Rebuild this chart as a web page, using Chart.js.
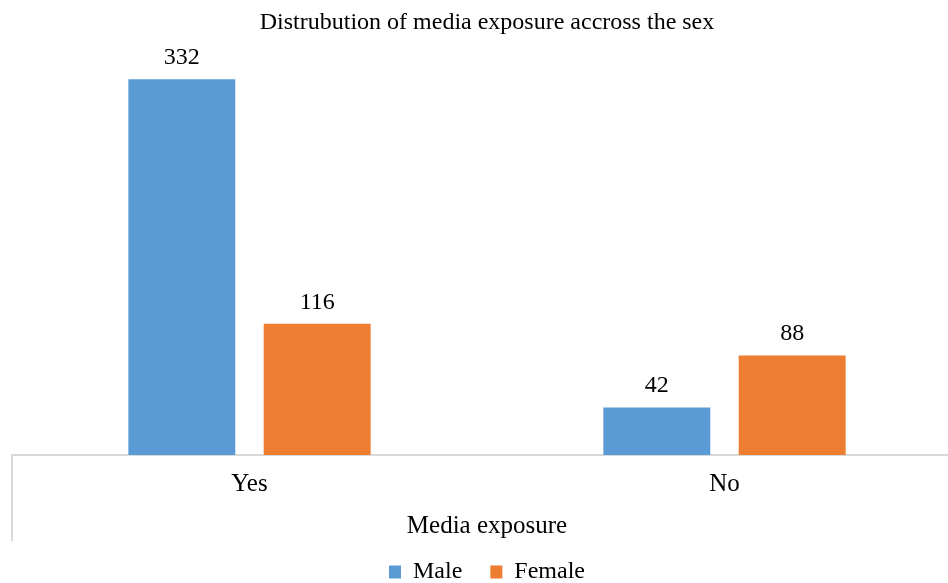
<!DOCTYPE html>
<html>
<head>
<meta charset="utf-8">
<script src="https://cdn.jsdelivr.net/npm/chart.js@4.4.0/dist/chart.umd.min.js"></script>
<style>
    html, body { margin: 0; padding: 0; background: #ffffff; overflow: hidden; }
    #wrap { position: relative; width: 974px; height: 594px; }
</style>
</head>
<body>
<div id="wrap"><canvas id="chart-1"></canvas></div>
<script>
// data
const categories = ['Yes', 'No'];
const maleValues = [332, 42];
const femaleValues = [116, 88];
const seriesNames = ['Male', 'Female'];

const serif = "'Liberation Serif', 'Times New Roman', serif";

// labels above each bar
const barLabelPlugin = {
    id: 'barLabels',
    afterDatasetsDraw: function (chart) {
        const ctx = chart.ctx;
        ctx.save();
        ctx.font = '24px ' + serif;
        ctx.fillStyle = '#000000';
        ctx.textAlign = 'center';
        ctx.textBaseline = 'alphabetic';
        chart.data.datasets.forEach(function (ds, i) {
            const meta = chart.getDatasetMeta(i);
            meta.data.forEach(function (bar, j) {
                ctx.fillText(String(ds.data[j]), bar.x, bar.y - 15);
            });
        });
        ctx.restore();
    }
};

// left separator line below axis
const leftLinePlugin = {
    id: 'leftLine',
    afterDraw: function (chart) {
        const ctx = chart.ctx;
        const area = chart.chartArea;
        ctx.save();
        ctx.strokeStyle = '#d9d9d9';
        ctx.lineWidth = 2;
        ctx.beginPath();
        ctx.moveTo(area.left, area.bottom);
        ctx.lineTo(area.left, area.bottom + 86);
        ctx.stroke();
        ctx.restore();
    }
};

const data = {
    labels: categories,
    datasets: [
        {
            label: seriesNames[0],
            data: maleValues,
            backgroundColor: '#5b9bd5',
            categoryPercentage: 0.57,
            barPercentage: 0.79
        },
        {
            label: seriesNames[1],
            data: femaleValues,
            backgroundColor: '#ed7d31',
            categoryPercentage: 0.57,
            barPercentage: 0.79
        }
    ]
};

const options = {
    responsive: true,
    maintainAspectRatio: false,
    animation: false,
    layout: {
        padding: { left: 12, right: 12, top: 6, bottom: 0 }
    },
    scales: {
        x: {
            grid: { display: false },
            border: { display: true, color: '#d9d9d9', width: 2 },
            ticks: {
                color: '#000000',
                font: { family: serif, size: 25 },
                padding: 6
            },
            title: {
                display: true,
                text: 'Media exposure',
                color: '#000000',
                font: { family: serif, size: 25 },
                padding: { top: 6, bottom: -9 }
            }
        },
        y: {
            display: false,
            min: 0,
            max: 350
        }
    },
    plugins: {
        title: {
            display: true,
            text: 'Distrubution of media exposure accross the sex',
            color: '#000000',
            font: { family: serif, size: 24, weight: 'normal' },
            padding: { top: 2, bottom: 22 }
        },
        legend: {
            position: 'bottom',
            labels: {
                color: '#000000',
                font: { family: serif, size: 24 },
                boxWidth: 12,
                boxHeight: 13,
                padding: 28
            }
        },
        tooltip: { enabled: false }
    }
};

const ctx = document.getElementById('chart-1').getContext('2d');
const chart = new Chart(ctx, {
    type: 'bar',
    data: data,
    options: options,
    plugins: [barLabelPlugin, leftLinePlugin]
});
</script>
</body>
</html>
